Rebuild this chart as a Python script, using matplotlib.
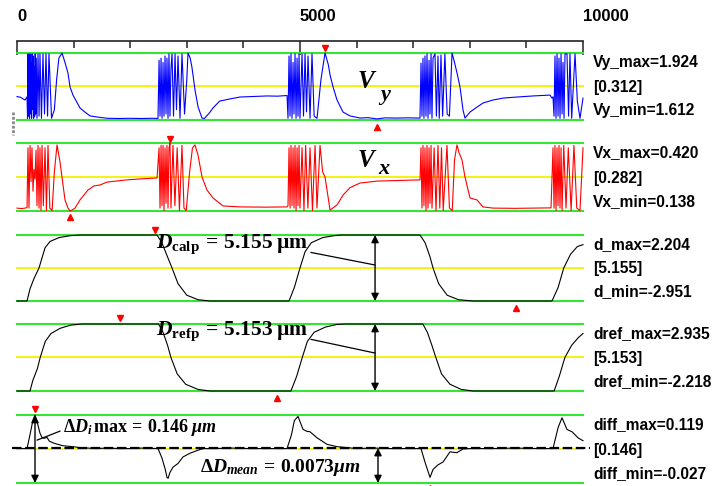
import matplotlib
matplotlib.use('Agg')
import matplotlib.pyplot as plt

plt.rcParams['mathtext.fontset'] = 'custom'
plt.rcParams['mathtext.rm'] = 'Liberation Serif:bold'
plt.rcParams['mathtext.it'] = 'Liberation Serif:bold:italic'
plt.rcParams['mathtext.bf'] = 'Liberation Serif:bold'

# ---- datos ----
# Vy (azul)
vy_x = [0, 60, 141, 177,
        186, 195, 204, 213, 222, 231, 240, 249, 258, 267, 276, 285, 294, 303, 312, 321, 330, 340, 353,
        371, 390, 406, 432, 459, 486, 512, 540, 565, 610, 660, 700, 740, 795, 848, 901, 937, 989,
        1113, 1200, 1290, 1467, 1600, 1800, 2000, 2200, 2400, 2491,
        2510, 2527, 2545, 2562, 2580, 2597, 2615, 2633, 2650, 2668, 2685, 2703, 2720, 2739, 2765,
        2792, 2818, 2845, 2880, 2915, 2960, 3000, 3021, 3060, 3090, 3145, 3200, 3269, 3310, 3400,
        3463, 3580, 3760, 3940, 4150, 4418, 4600, 4771,
        4788, 4806, 4824, 4841, 4859, 4877, 4894, 4912, 4930, 4948, 4965, 4983, 5000, 5036, 5062,
        5089, 5115, 5142, 5177, 5212, 5250, 5301, 5370, 5442, 5500, 5531, 5584, 5654, 5760, 5884,
        6061, 6200, 6361, 6500, 6700, 6900, 7120,
        7138, 7155, 7173, 7190, 7208, 7226, 7244, 7262, 7280, 7297, 7315, 7332, 7350, 7385, 7410,
        7438, 7460, 7491, 7520, 7560, 7600, 7640, 7686, 7730, 7774, 7827, 7880, 7915, 8004, 8127,
        8233, 8410, 8587, 8834, 9117, 9417, 9452,
        9470, 9488, 9505, 9523, 9541, 9559, 9576, 9594, 9612, 9630, 9647, 9665, 9682, 9717, 9745,
        9770, 9800, 9859, 9900, 9947, 10000]
vy_y = [1.721, 1.718, 1.705, 1.720,
        1.62, 1.92, 1.63, 1.91, 1.62, 1.92, 1.64, 1.88, 1.62, 1.92, 1.66, 1.91, 1.62, 1.86, 1.63, 1.92, 1.64, 1.90, 1.62,
        1.92, 1.63, 1.92, 1.62, 1.92, 1.64, 1.92, 1.63, 1.92, 1.62, 1.66, 1.80, 1.90, 1.924, 1.88, 1.83, 1.766, 1.728,
        1.668, 1.649, 1.631, 1.624, 1.620, 1.619, 1.620, 1.619, 1.620, 1.619,
        1.89, 1.63, 1.90, 1.62, 1.88, 1.63, 1.91, 1.64, 1.90, 1.62, 1.92, 1.63, 1.85, 1.92, 1.63,
        1.92, 1.66, 1.91, 1.62, 1.92, 1.64, 1.80, 1.924, 1.90, 1.859, 1.752, 1.672, 1.621, 1.619, 1.645,
        1.668, 1.700, 1.710, 1.719, 1.721, 1.724, 1.723, 1.726,
        1.62, 1.91, 1.63, 1.92, 1.62, 1.88, 1.64, 1.92, 1.62, 1.90, 1.63, 1.92, 1.62, 1.92, 1.63,
        1.92, 1.65, 1.91, 1.62, 1.92, 1.63, 1.62, 1.80, 1.924, 1.87, 1.822, 1.766, 1.705, 1.649, 1.631,
        1.621, 1.623, 1.617, 1.622, 1.621, 1.622, 1.621,
        1.877, 1.63, 1.90, 1.62, 1.91, 1.63, 1.92, 1.62, 1.89, 1.64, 1.92, 1.62, 1.90, 1.92, 1.63,
        1.91, 1.62, 1.915, 1.63, 1.92, 1.64, 1.63, 1.924, 1.88, 1.831, 1.766, 1.659, 1.621, 1.649, 1.672,
        1.691, 1.705, 1.714, 1.719, 1.724, 1.728, 1.714,
        1.72, 1.63, 1.91, 1.62, 1.92, 1.63, 1.90, 1.62, 1.92, 1.64, 1.88, 1.62, 1.92, 1.92, 1.63,
        1.92, 1.62, 1.92, 1.70, 1.62, 1.714]

# Vx (rojo)
vx_x = [0, 80, 141, 177,
        194, 212, 230, 248, 265, 283, 300, 318, 336, 353, 371, 389, 406, 424, 442, 465, 495, 520,
        548, 580, 620, 660, 707, 760, 795, 848, 901, 937, 972, 1025, 1113, 1254, 1360, 1467, 1590,
        1943, 2173, 2474,
        2510, 2527, 2545, 2562, 2580, 2597, 2615, 2633, 2650, 2668, 2685, 2703, 2720, 2756, 2790,
        2830, 2870, 2915, 2950, 2990, 3050, 3100, 3145, 3198, 3269, 3357, 3463, 3640, 3940, 4400, 4771,
        4788, 4806, 4824, 4841, 4859, 4877, 4894, 4912, 4930, 4948, 4965, 4983, 5000, 5036, 5070,
        5100, 5140, 5177, 5220, 5266, 5300, 5354, 5400, 5442, 5531, 5654, 5760, 5884, 6061, 6361, 7067,
        7120, 7138, 7155, 7173, 7190, 7208, 7226, 7244, 7262, 7280, 7297, 7315, 7332, 7370, 7403,
        7438, 7470, 7500, 7530, 7597, 7640, 7690, 7730, 7774, 7810, 7862, 7915, 8004, 8127, 8233,
        8410, 8800, 9200, 9435,
        9470, 9488, 9505, 9523, 9541, 9559, 9576, 9594, 9612, 9630, 9660, 9700, 9740, 9790, 9840,
        9890, 9947, 10000]
vx_y = [0.150, 0.148, 0.150, 0.152,
        0.40, 0.15, 0.41, 0.26, 0.40, 0.22, 0.31, 0.27, 0.39, 0.16, 0.41, 0.15, 0.40, 0.14, 0.41, 0.16, 0.40, 0.14,
        0.41, 0.15, 0.14, 0.30, 0.412, 0.341, 0.279, 0.184, 0.150, 0.138, 0.142, 0.150, 0.184, 0.225, 0.242, 0.246, 0.258,
        0.267, 0.271, 0.275,
        0.40, 0.15, 0.41, 0.16, 0.41, 0.14, 0.40, 0.17, 0.41, 0.15, 0.40, 0.420, 0.15, 0.41, 0.16,
        0.40, 0.14, 0.41, 0.15, 0.14, 0.30, 0.40, 0.412, 0.370, 0.279, 0.225, 0.192, 0.159, 0.155, 0.154, 0.155,
        0.16, 0.40, 0.15, 0.41, 0.16, 0.40, 0.15, 0.41, 0.14, 0.40, 0.16, 0.41, 0.15, 0.40, 0.14,
        0.41, 0.15, 0.40, 0.14, 0.41, 0.15, 0.41, 0.30, 0.279, 0.142, 0.163, 0.204, 0.235, 0.254, 0.262, 0.267,
        0.267, 0.40, 0.15, 0.41, 0.16, 0.40, 0.14, 0.41, 0.15, 0.40, 0.17, 0.41, 0.15, 0.40, 0.14,
        0.41, 0.15, 0.40, 0.14, 0.41, 0.15, 0.14, 0.35, 0.412, 0.38, 0.350, 0.279, 0.192, 0.184, 0.155,
        0.150, 0.149, 0.150, 0.151,
        0.40, 0.15, 0.41, 0.14, 0.40, 0.16, 0.41, 0.15, 0.40, 0.14, 0.41, 0.15, 0.40, 0.14, 0.41,
        0.15, 0.14, 0.40]

# d calculado (negro)
d_x = [0, 177, 230, 300, 389, 495, 583, 742, 937, 1113, 2474,
       2560, 2650, 2739, 2845, 3000, 3200, 3410, 4806,
       4900, 5000, 5090, 5200, 5400, 5600, 5725, 7120,
       7210, 7297, 7350, 7450, 7600, 7800, 8057, 9452,
       9560, 9660, 9780, 9900, 10000]
d_y = [-2.951, -2.951, -2.0, -1.2, -0.37, 1.2, 1.7, 2.0, 2.15, 2.204, 2.204,
       1.6, 0.6, -0.37, -1.6, -2.5, -2.85, -2.951, -2.951,
       -1.9, -0.37, 0.9, 1.6, 2.0, 2.15, 2.204, 2.204,
       1.6, 0.5, -0.37, -1.6, -2.5, -2.85, -2.951, -2.951,
       -1.9, -0.37, 0.7, 1.3, 1.45]

# d referencia (negro)
dref_x = [0, 230, 280, 360, 410, 500, 600, 760, 950, 1150, 2500,
          2580, 2660, 2720, 2830, 2980, 3200, 3410, 4840,
          4940, 5040, 5130, 5250, 5450, 5650, 5800, 7170,
          7250, 7330, 7400, 7500, 7650, 7850, 8060, 9490,
          9580, 9680, 9800, 9920, 10000]
dref_y = [-2.218, -2.218, -1.4, -0.5, 0.36, 1.6, 2.2, 2.6, 2.85, 2.935, 2.935,
          2.3, 1.3, 0.36, -0.9, -1.7, -2.1, -2.218, -2.218,
          -1.1, 0.36, 1.6, 2.3, 2.7, 2.9, 2.935, 2.935,
          2.3, 1.3, 0.36, -0.9, -1.7, -2.1, -2.218, -2.218,
          -1.1, 0.36, 1.3, 1.9, 2.2]

# diferencia (negro)
diff_x = [0, 177, 230, 280, 318, 360, 406, 440, 480, 530, 570, 640, 720, 810, 900, 990, 1110,
          1254, 1400, 1600, 1800, 2000, 2200, 2491,
          2560, 2620, 2650, 2670, 2700, 2756, 2845, 2933, 3057, 3145, 3234, 3300, 3500, 3800,
          4100, 4400, 4771,
          4850, 4900, 4965, 5054, 5120, 5177, 5301, 5478, 5654, 5831, 6000, 6300, 6600, 6900, 7138,
          7208, 7297, 7350, 7438, 7527, 7650, 7770, 7880, 8000, 8400, 8800, 9200, 9470,
          9560, 9629, 9717, 9806, 9912, 9982, 10000]
diff_y = [0.047, 0.047, 0.077, 0.107, 0.119, 0.102, 0.080, 0.071, 0.069, 0.071, 0.063, 0.059, 0.056,
          0.053, 0.052, 0.051, 0.049, 0.048, 0.047, 0.048, 0.047, 0.047, 0.048, 0.047,
          0.027, 0.002, -0.015, -0.017, -0.005, 0.007, 0.015, 0.029, 0.037, 0.041, 0.045, 0.047,
          0.047, 0.048, 0.047, 0.047, 0.047,
          0.077, 0.107, 0.116, 0.088, 0.084, 0.083, 0.070, 0.056, 0.051, 0.049, 0.047, 0.048,
          0.047, 0.047, 0.047,
          0.018, -0.015, 0.002, 0.012, 0.018, 0.040, 0.038, 0.046, 0.047, 0.047, 0.048, 0.047, 0.047,
          0.092, 0.113, 0.088, 0.083, 0.070, 0.065, 0.064]
diff_mean = 0.048

nombres = ['Vy', 'Vx', 'd', 'dref', 'diff']
maximos = [1.924, 0.420, 2.204, 2.935, 0.119]
minimos = [1.612, 0.138, -2.951, -2.218, -0.027]
# posicion de los marcadores de maximo / minimo
pos_max = [(5442, 1.947), (2703, 0.437), (2438, 2.60), (1820, 3.40), (318, 0.132)]
pos_min = [(6361, 1.579), (937, 0.113), (8816, -3.50), (4594, -2.76), (7297, -0.038)]

escala_x = [0, 5000, 10000]

VERDE = '#33e633'
AMARILLO = '#f2f200'

W, H = 713, 486
fig = plt.figure(figsize=(W / 100, H / 100), dpi=100)
fig.patch.set_facecolor('white')

x0, x1 = 17, 583
filas = [(53, 120), (143, 211), (235, 301), (324, 391), (415, 483)]

# eje superior
ax0 = fig.add_axes([x0 / W, 1 - 60 / H, (x1 - x0) / W, 19 / H])
ax0.set_xlim(0, 10000)
ax0.set_ylim(0, 1)
for s in ['left', 'right', 'bottom']:
    ax0.spines[s].set_visible(False)
ax0.spines['top'].set_linewidth(1.2)
ax0.spines['top'].set_color('#222222')
ax0.set_yticks([])
ax0.xaxis.set_ticks_position('top')
ax0.set_xticks(escala_x)
ax0.set_xticks(range(0, 10001, 1000), minor=True)
ax0.tick_params(axis='x', which='major', direction='in', length=10, width=1.1,
                color='#222222', pad=12, labelsize=12)
ax0.tick_params(axis='x', which='minor', direction='in', length=5, width=1.1, color='#222222')
ax0.set_xticklabels([str(v) for v in escala_x], fontfamily='Liberation Sans', fontweight='bold')
for lab in ax0.get_xticklabels():
    lab.set_ha('left')
ax0.patch.set_alpha(0)

series = [(vy_x, vy_y, 'blue'), (vx_x, vx_y, 'red'), (d_x, d_y, 'black'),
          (dref_x, dref_y, 'black'), (diff_x, diff_y, 'black')]

axes = []
for i, (top, bot) in enumerate(filas):
    ax = fig.add_axes([x0 / W, 1 - bot / H, (x1 - x0) / W, (bot - top) / H])
    lo, hi = minimos[i], maximos[i]
    ax.set_xlim(0, 10000)
    ax.set_ylim(lo, hi)
    ax.axis('off')
    ax.axhline(hi, color=VERDE, lw=1.5, clip_on=False, zorder=1)
    ax.axhline(lo, color=VERDE, lw=1.5, clip_on=False, zorder=1)
    ax.axhline((lo + hi) / 2, color=AMARILLO, lw=1.3, clip_on=False, zorder=1)
    xs, ys, c = series[i]
    ax.plot(xs, ys, color=c, lw=0.8, clip_on=False, zorder=3)
    ax.plot(*pos_max[i], marker='v', color='red', ms=4.5, clip_on=False, zorder=4)
    ax.plot(*pos_min[i], marker='^', color='red', ms=4.5, clip_on=False, zorder=4)

    h = bot - top
    etiquetas = [f'{nombres[i]}_max={hi:.3f}', f'[{hi - lo:.3f}]', f'{nombres[i]}_min={lo:.3f}']
    for lab, dy in zip(etiquetas, [10, h / 2 + 1, h - 9]):
        fig.text(593 / W, 1 - (top + dy) / H, lab, fontfamily='Liberation Sans',
                 fontweight='bold', fontsize=11.2, va='center', ha='left')
    axes.append(ax)

ax_vy, ax_vx, ax_d, ax_dref, ax_diff = axes

# barra gris a la izquierda
ax_vy.plot([-4 / 566, -4 / 566], [0.12, -0.22], transform=ax_vy.transAxes, color='#888888',
           lw=2, ls=(0, (1, 0.6)), clip_on=False)

# etiquetas Vy / Vx
serif = dict(fontfamily='Liberation Serif', fontweight='bold', fontstyle='italic')
ax_vy.text(0.601, 0.58, 'V', transform=ax_vy.transAxes, fontsize=18, va='center', **serif)
ax_vy.text(0.641, 0.37, 'y', transform=ax_vy.transAxes, fontsize=16, va='center', **serif)
ax_vx.text(0.601, 0.75, 'V', transform=ax_vx.transAxes, fontsize=18, va='center', **serif)
ax_vx.text(0.638, 0.62, 'x', transform=ax_vx.transAxes, fontsize=16, va='center', **serif)

# flechas dobles y textos
flecha = dict(arrowstyle='<|-|>', color='black', lw=1.0, shrinkA=0, shrinkB=0, mutation_scale=11)
x_flecha = 6326
ax_d.annotate('', xy=(x_flecha, maximos[2]), xytext=(x_flecha, minimos[2]), arrowprops=flecha,
              annotation_clip=False)
ax_dref.annotate('', xy=(x_flecha, maximos[3]), xytext=(x_flecha, minimos[3]), arrowprops=flecha,
                 annotation_clip=False)
ax_diff.annotate('', xy=(318, maximos[4]), xytext=(318, minimos[4]), arrowprops=flecha,
                 annotation_clip=False)
ax_diff.annotate('', xy=(6378, diff_mean), xytext=(6378, minimos[4]), arrowprops=flecha,
                 annotation_clip=False)

linea = dict(arrowstyle='-', color='black', lw=0.9, shrinkA=0, shrinkB=0)
ax_d.annotate(r'$D_{\mathrm{calp}}\,\mathrm{=\,5.155\;µm}$', xy=(x_flecha, -0.14),
              xytext=(0.245, 0.86), textcoords='axes fraction', fontsize=15.5, va='center',
              ha='left', arrowprops=dict(linea, relpos=(0.98, 0.2)), annotation_clip=False)
ax_dref.annotate(r'$D_{\mathrm{refp}}\,\mathrm{=\,5.153\;µm}$', xy=(x_flecha, 0.70),
                 xytext=(0.245, 0.895), textcoords='axes fraction', fontsize=15.5, va='center',
                 ha='left', arrowprops=dict(linea, relpos=(0.98, 0.2)), annotation_clip=False)
ax_diff.annotate(r'$\Delta D_i\,\mathrm{max}\,\mathrm{=}\,0.146\;\mu m$', xy=(353, 0.065),
                 xytext=(0.081, 0.81), textcoords='axes fraction', fontsize=13, va='center',
                 ha='left', arrowprops=dict(linea, relpos=(0.0, 0.4)), annotation_clip=False)
ax_diff.text(0.323, 0.235, r'$\Delta D_{mean}\,\mathrm{=}\,0.0073\mu m$', transform=ax_diff.transAxes,
             fontsize=14, va='center', ha='left')

# linea media discontinua
ax_diff.axhline(diff_mean, xmin=-5 / 566, xmax=1 + 7 / 566, color='black', lw=1.6,
                ls=(0, (4.3, 1.6)), clip_on=False, zorder=2)

fig.savefig('out.png', dpi=100)
